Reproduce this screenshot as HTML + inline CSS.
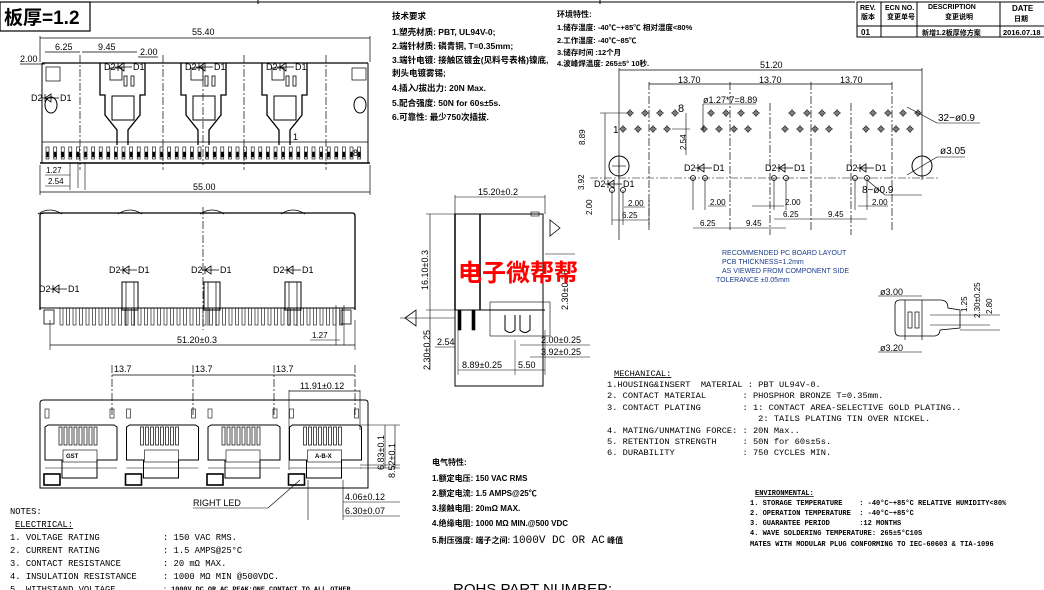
<!DOCTYPE html>
<html><head><meta charset="utf-8"><style>
html,body{margin:0;padding:0;background:#fff;}
svg{display:block;}
text{font-family:"Liberation Sans","Noto Sans CJK SC",sans-serif;fill:#000;}
.m text, text.m{font-family:"Liberation Mono","Noto Sans CJK SC",monospace;white-space:pre;}
.m tspan{font-family:"Liberation Mono",monospace;}
.c text{font-family:"Liberation Sans","Noto Sans CJK SC",sans-serif;font-weight:bold;}
</style></head><body>
<svg id="s" width="1044" height="590" viewBox="0 0 1044 590" xmlns="http://www.w3.org/2000/svg" fill="none" stroke="#000" stroke-width="1">
<line x1="0" y1="2" x2="855" y2="2"/>
<line x1="258" y1="0" x2="258" y2="4"/>
<line x1="600" y1="0" x2="600" y2="4"/>
<rect x="0" y="2" width="90" height="29" stroke-width="1.2"/>
<text x="4" y="24" font-size="19" font-weight="bold" stroke="none">板厚=1.2</text>
<g stroke-width="1">
<rect x="857" y="2" width="190" height="35"/>
<line x1="857" y1="26" x2="1044" y2="26"/>
<line x1="881" y1="2" x2="881" y2="37"/>
<line x1="917" y1="2" x2="917" y2="37"/>
<line x1="1000" y1="2" x2="1000" y2="37"/>
</g>
<g stroke="none" class="c" font-size="7">
<text x="860" y="10">REV.</text><text x="861" y="19">版本</text>
<text x="885" y="10">ECN NO.</text><text x="887" y="19">变更单号</text>
<text x="928" y="9">DESCRIPTION</text><text x="945" y="19">变更说明</text>
<text x="1012" y="11" font-size="8">DATE</text><text x="1014" y="21">日期</text>
<text x="861" y="35" font-weight="normal" font-size="8">01</text>
<text x="922" y="35">新增1.2板厚修方案</text>
<text x="1003" y="35" font-weight="normal" font-size="7.5">2016.07.18</text>
</g>

<g id="top"></g>
<g id="mid"></g>
<g id="front"></g>
<g id="side"></g>
<g id="pcb"></g>

<g stroke="none" class="c" font-size="8.5">
<text x="392" y="19">技术要求</text>
<text x="392" y="35">1.塑壳材质: PBT, UL94V-0;</text>
<text x="392" y="49">2.端针材质: 磷青铜, T=0.35mm;</text>
<text x="392" y="63">3.端针电镀: 接触区镀金(见料号表格)镍底,</text>
<text x="392" y="76">刺头电镀雾锡;</text>
<text x="392" y="91">4.插入/拔出力:  20N Max.</text>
<text x="392" y="106">5.配合强度: 50N for 60s±5s.</text>
<text x="392" y="120">6.可靠性: 最少750次插拔.</text>
<text x="557" y="17" font-size="8">环境特性:</text>
<text x="557" y="30" font-size="7.5">1.储存温度: -40℃~+85℃ 相对湿度&lt;80%</text>
<text x="557" y="43" font-size="7.5">2.工作温度: -40℃~85℃</text>
<text x="557" y="55" font-size="7.5">3.储存时间 :12个月</text>
<text x="557" y="66" font-size="7.5">4.波峰焊温度: 265±5° 10秒.</text>
</g>
<text x="458" y="281" font-size="24" font-weight="bold" stroke="none" style="fill:#f00">电子微帮帮</text>
<g stroke="none" font-size="7">
<text x="722" y="255" style="fill:#1a3c8c">RECOMMENDED PC BOARD LAYOUT</text>
<text x="722" y="264" style="fill:#1a3c8c">PCB THICKNESS=1.2mm</text>
<text x="722" y="273" style="fill:#1a3c8c">AS VIEWED FROM COMPONENT SIDE</text>
<text x="716" y="282" style="fill:#1a3c8c">TOLERANCE ±0.05mm</text>
</g>
<g stroke="none" class="m" font-size="8.7">
<text x="614" y="376" text-decoration="underline">MECHANICAL:</text>
<text x="607" y="387">1.HOUSING&amp;INSERT  MATERIAL : PBT UL94V-0.</text>
<text x="607" y="398">2. CONTACT MATERIAL       : PHOSPHOR BRONZE T=0.35mm.</text>
<text x="607" y="410">3. CONTACT PLATING        : 1: CONTACT AREA-SELECTIVE GOLD PLATING..</text>
<text x="607" y="421">                             2: TAILS PLATING TIN OVER NICKEL.</text>
<text x="607" y="433">4. MATING/UNMATING FORCE: : 20N Max..</text>
<text x="607" y="444">5. RETENTION STRENGTH     : 50N for 60s±5s.</text>
<text x="607" y="455">6. DURABILITY             : 750 CYCLES MIN.</text>
</g>
<g stroke="none" class="m" font-size="7" font-weight="bold">
<text x="755" y="495" text-decoration="underline">ENVIRONMENTAL:</text>
<text x="750" y="505">1. STORAGE TEMPERATURE    : -40°C~+85°C RELATIVE HUMIDITY&lt;80%</text>
<text x="750" y="515">2. OPERATION TEMPERATURE  : -40°C~+85°C</text>
<text x="750" y="525">3. GUARANTEE PERIOD       :12 MONTHS</text>
<text x="750" y="535">4. WAVE SOLDERING TEMPERATURE: 265±5°C10S</text>
<text x="750" y="546">MATES WITH MODULAR PLUG CONFORMING TO IEC-60603 &amp; TIA-1096</text>
</g>
<g stroke="none" class="m" font-size="8.8">
<text x="10" y="514">NOTES:</text>
<text x="15" y="527" text-decoration="underline">ELECTRICAL:</text>
<text x="10" y="540">1. VOLTAGE RATING</text><text x="163" y="540">: 150 VAC RMS.</text>
<text x="10" y="553">2. CURRENT RATING</text><text x="163" y="553">: 1.5 AMPS@25°C</text>
<text x="10" y="566">3. CONTACT RESISTANCE</text><text x="163" y="566">: 20 mΩ MAX.</text>
<text x="10" y="579">4. INSULATION RESISTANCE</text><text x="163" y="579">: 1000 MΩ MIN @500VDC.</text>
<text x="10" y="592">5. WITHSTAND VOLTAGE</text><text x="163" y="591" font-size="6.8" font-weight="bold">: 1000V DC OR AC PEAK:ONE CONTACT TO ALL OTHER</text>
</g>
<g stroke="none" class="c" font-size="8">
<text x="432" y="465">电气特性:</text>
<text x="432" y="481">1.额定电压: 150 VAC RMS</text>
<text x="432" y="496">2.额定电流: 1.5 AMPS@25℃</text>
<text x="432" y="511">3.接触电阻: 20mΩ MAX.</text>
<text x="432" y="526">4.绝缘电阻: 1000 MΩ MIN.@500 VDC</text>
<text x="432" y="543">5.耐压强度: 端子之间: <tspan style="font-family:'Liberation Mono',monospace;font-weight:normal" font-size="11">1000V DC OR AC</tspan> 峰值</text>
</g>
<text x="453" y="594" font-size="15" stroke="none">ROHS PART NUMBER:</text>
</svg>
<script>
var NS="http://www.w3.org/2000/svg";
function el(g,t,a,txt){var e=document.createElementNS(NS,t);for(var k in a)e.setAttribute(k,a[k]);if(txt!=null)e.textContent=txt;document.getElementById(g).appendChild(e);return e;}
function L(g,x1,y1,x2,y2,w,d){var a={x1:x1,y1:y1,x2:x2,y2:y2};if(w)a['stroke-width']=w;if(d)a['stroke-dasharray']=d;return el(g,'line',a);}
function R(g,x,y,w,h,sw,f){var a={x:x,y:y,width:w,height:h};if(sw)a['stroke-width']=sw;if(f)a.fill=f;return el(g,'rect',a);}
function T(g,x,y,s,fs,extra){var a={x:x,y:y,stroke:'none','font-size':fs||9};for(var k in extra)a[k]=extra[k];return el(g,'text',a,s);}
function diode(g,x,y){T(g,x-14,y+3,'D2',9);L(g,x-3,y,x+14,y,0.8);el(g,'path',{d:'M'+(x+6)+' '+(y-4)+' L'+(x)+' '+y+' L'+(x+6)+' '+(y+4)+' Z','stroke-width':0.8});L(g,x,y-4,x,y+4,0.8);T(g,x+15,y+3,'D1',9);}
var DD='8,2,2,2';
(function(){var g='top';
L(g,40,38,370,38,0.7);L(g,40,36,40,62,0.7);L(g,370,36,370,62,0.7);T(g,192,35,'55.40',9);
L(g,45,52,80,52,0.7);T(g,55,50,'6.25',9);L(g,82,52,137,52,0.7);T(g,98,50,'9.45',9);T(g,140,55,'2.00',9);L(g,138,57,158,57,0.7);
T(g,20,62,'2.00',9);L(g,20,64,45,64,0.7);
L(g,42,63,368,63,1.3);L(g,42,63,42,163);L(g,368,63,368,163);
L(g,40,163,370,163,1.6);
var px=[100,181,262];
for(var i=0;i<3;i++){var x=px[i];
el(g,'path',{d:'M'+x+' 63 L'+x+' 95 L'+(x+5)+' 95 L'+(x+5)+' 115 L'+(x+17)+' 130 L'+(x+17)+' 145 M'+(x+45)+' 63 L'+(x+45)+' 95 L'+(x+40)+' 95 L'+(x+40)+' 115 L'+(x+28)+' 130 L'+(x+28)+' 145','stroke-width':1.3});
R(g,x+10,68,12,12,0.8);R(g,x+12,96,22,24,1);
diode(g,x+18,67);R(g,x+24,76,3,10,0.8);R(g,x+31,76,3,10,0.8);
}
diode(g,45,98);R(g,46,67,14,14,0.7);
el(g,'ellipse',{cx:51,cy:105,rx:6,ry:8});el(g,'ellipse',{cx:360,cy:105,rx:6,ry:8});R(g,352,68,14,12,0.7);
[80,163,244,326].forEach(function(x){L(g,x,55,x,170,0.7,DD);});
L(g,203,65,203,165,0.7,DD);
for(var x=46;x<364;x+=7.6){R(g,x,147,3,12,0.6);R(g,x+0.5,152,2,5,0.5,'#000');}
L(g,42,142,368,142,0.8);
T(g,293,140,'1',9);T(g,353,156,'8',9);
L(g,40,192,370,192,0.7);L(g,40,165,40,195,0.7);L(g,370,165,370,195,0.7);T(g,193,190,'55.00',9);
T(g,46,173,'1.27',8);L(g,45,175,70,175,0.6);T(g,48,184,'2.54',8);L(g,45,186,70,186,0.6);L(g,70,163,70,190,0.6);L(g,78,163,78,188,0.6);L(g,85,163,85,190,0.6);
})();
(function(){var g='mid';
el(g,'path',{d:'M40 310 L40 215 Q40 213 45 213 L352 213 Q355 213 355 216 L355 310','stroke-width':1.3});
[50,130,212,293].forEach(function(x){el(g,'path',{d:'M'+(x-12)+' 214 Q'+x+' 206 '+(x+12)+' 214','stroke-width':0.8});});
L(g,203,207,203,330,0.7,DD);
diode(g,53,289);diode(g,123,270);diode(g,205,270);diode(g,287,270);
[122,204,285].forEach(function(x){R(g,x,282,16,28,1);L(g,x+4,282,x+4,326,0.7);L(g,x+12,282,x+12,326,0.7);});
for(var x=60;x<345;x+=6.5){R(g,x,308,3,17,0.6);}
L(g,40,308,355,308,1);
R(g,44,310,10,14,0.8);R(g,341,310,10,14,0.8);
L(g,50,345,355,345,0.7);L(g,50,320,50,350,0.6);L(g,355,320,355,350,0.6);T(g,177,343,'51.20±0.3',9);
T(g,312,338,'1.27',8);L(g,310,340,340,340,0.6);L(g,336,305,336,345,0.6);L(g,344,305,344,345,0.6);
})();
(function(){var g='front';
el(g,'path',{d:'M44 400 L365 400 Q368 400 368 403 L368 488 L40 488 L40 403 Q40 400 44 400 Z','stroke-width':1});
[112,193,274,355].forEach(function(x){L(g,x,365,x,415,0.7,DD);});
L(g,112,375,355,375,0.7);T(g,114,372,'13.7',9);T(g,195,372,'13.7',9);T(g,276,372,'13.7',9);
T(g,300,389,'11.91±0.12',9);L(g,289,391,360,391,0.7);L(g,289,390,289,470,0.6);L(g,360,390,360,430,0.6);
for(var i=0;i<4;i++){var x=42+i*81.5;
el(g,'path',{d:'M'+(x+3)+' 427 L'+(x+6)+' 425 L'+(x+72)+' 425 L'+(x+75)+' 427 L'+(x+75)+' 460 L'+(x+55)+' 460 L'+(x+55)+' 478 L'+(x+20)+' 478 L'+(x+20)+' 460 L'+(x+3)+' 460 Z','stroke-width':1});
L(g,x+3,468,x+75,468,0.6);R(g,x+21,450,34,12,0.6);
R(g,x+3,409,4,9,0.6);R(g,x+68,409,4,9,0.6);
for(var k=0;k<8;k++)R(g,x+17+k*5,427,3,18,0.7);
R(g,x+2,474,16,11,1.6);
}
T(g,66,458,'GST',6,{'font-weight':'bold'});T(g,315,458,'A-B-X',6,{'font-weight':'bold'});
T(g,193,506,'RIGHT LED',9);L(g,193,508,268,508,0.6);L(g,268,508,300,480,0.6);
T(g,345,500,'4.06±0.12',9);L(g,343,502,400,502,0.6);T(g,345,514,'6.30±0.07',9);L(g,343,516,400,516,0.6);
L(g,308,480,308,520,0.6);L(g,343,480,343,520,0.6);
L(g,360,425,400,425,0.6);L(g,360,465,400,465,0.6);L(g,360,468,400,468,0.6);
L(g,385,425,385,468,0.6);L(g,395,425,395,468,0.6);
T(g,0,0,'6.83±0.1',9,{transform:'translate(384,470) rotate(-90)'});T(g,0,0,'8.52±0.1',9,{transform:'translate(395,478) rotate(-90)'});
})();
(function(){var g='side';
R(g,455,214,88,172,1);L(g,480,214,480,310,1.5);L(g,455,214,455,310,1.5);
R(g,531,212,8,4,0.6);L(g,455,310,545,310,1);
L(g,455,197,545,197,0.6);L(g,455,195,455,214,0.6);L(g,545,195,545,214,0.6);T(g,478,195,'15.20±0.2',9);
L(g,426,214,455,214,0.6);L(g,426,310,455,310,0.6);L(g,430,214,430,370,0.6);
T(g,0,0,'16.10±0.3',9,{transform:'translate(428,290) rotate(-90)'});
T(g,0,0,'2.30±0.25',9,{transform:'translate(430,370) rotate(-90)'});
T(g,0,0,'2.30±0.25',9,{transform:'translate(568,310) rotate(-90)'});
el(g,'path',{d:'M405 318 L416 310 L416 326 Z','stroke-width':0.8});el(g,'path',{d:'M560 228 L550 220 L550 236 Z','stroke-width':0.8});
L(g,400,318,455,318,0.6);L(g,545,254,575,254,0.6);
R(g,490,302,60,34,0.6);
[458,472].forEach(function(x){R(g,x,310,3,20,0.6,'#000');});
el(g,'path',{d:'M505 315 L505 330 Q510 335 515 330 L515 315 M520 315 L520 330 Q525 335 530 330 L530 315','stroke-width':1});
L(g,435,347,455,347,0.6);T(g,437,345,'2.54',9);
L(g,458,370,515,370,0.6);T(g,462,368,'8.89±0.25',9);L(g,515,370,545,370,0.6);T(g,518,368,'5.50',9);
T(g,541,343,'2.00±0.25',9);L(g,520,345,590,345,0.6);T(g,541,355,'3.92±0.25',9);L(g,530,357,590,357,0.6);
L(g,458,330,458,375,0.5);L(g,515,340,515,375,0.5);L(g,545,330,545,375,0.5);
})();
(function(){var g='pcb';
L(g,619,70,922,70,0.7);L(g,619,68,619,240,0.7);L(g,922,68,922,180,0.7);T(g,760,68,'51.20',9);
L(g,649,84,892,84,0.7);T(g,678,83,'13.70',9);T(g,759,83,'13.70',9);T(g,840,83,'13.70',9);
[649,730,811,892].forEach(function(x){L(g,x,82,x,230,0.7,DD);});
[770,851].forEach(function(x){L(g,x,103,x,235,0.7,DD);});
T(g,703,103,'ø1.27*7=8.89',9);L(g,703,104,756,104,0.6);L(g,703,104,703,130,0.6);
for(var p=0;p<4;p++){var o=p*81;
[630,645,660,675].forEach(function(x){el(g,'circle',{cx:x+o,cy:113,r:2.2,'stroke-width':0.8});L(g,x+o-4,113,x+o+4,113,0.6);L(g,x+o,109,x+o,117,0.6);});
[623,638,653,667].forEach(function(x){el(g,'circle',{cx:x+o,cy:129,r:2.2,'stroke-width':0.8});L(g,x+o-4,129,x+o+4,129,0.6);L(g,x+o,125,x+o,133,0.6);});
}
T(g,678,112,'8',11);T(g,613,133,'1',10);L(g,600,113,630,113,0.6);L(g,605,113,605,180,0.6);
L(g,672,129,690,129,0.6);L(g,686,113,686,155,0.6);T(g,0,0,'2.54',8,{transform:'translate(686,150) rotate(-90)'});
T(g,0,0,'8.89',8,{transform:'translate(585,145) rotate(-90)'});T(g,0,0,'3.92',8,{transform:'translate(584,190) rotate(-90)'});
T(g,0,0,'2.00',8,{transform:'translate(592,215) rotate(-90)'});
T(g,938,121,'32−ø0.9',10);L(g,907,107,937,123,0.6);L(g,937,123,980,123,0.6);
el(g,'circle',{cx:619,cy:166,r:10});L(g,612,166,626,166,0.6);L(g,619,159,619,173,0.6);
el(g,'circle',{cx:922,cy:166,r:10});L(g,907,175,937,157,0.6);T(g,940,154,'ø3.05',10);L(g,937,157,965,157,0.6);
L(g,590,178,940,178,0.6,DD);
[[693,705],[774,786],[855,867]].forEach(function(a){
a.forEach(function(x){el(g,'circle',{cx:x,cy:178,r:2.5,'stroke-width':0.8});L(g,x,178,x,210,0.6);});
diode(g,a[0]+5,168);
});
[[612,623]].forEach(function(a){a.forEach(function(x){el(g,'circle',{cx:x,cy:190,r:2.5,'stroke-width':0.8});L(g,x,190,x,225,0.6);});});
diode(g,608,184);
T(g,862,193,'8−ø0.9',10);L(g,867,180,885,195,0.6);L(g,885,195,922,195,0.6);
T(g,710,205,'2.00',8);L(g,708,206,726,206,0.6);T(g,785,205,'2.00',8);L(g,752,206,784,206,0.6);T(g,872,205,'2.00',8);L(g,858,206,888,206,0.6);
T(g,628,206,'2.00',8);L(g,624,207,645,207,0.6);
T(g,622,218,'6.25',8);L(g,612,220,649,220,0.6);L(g,649,200,649,225,0.6);
L(g,693,228,730,228,0.6);T(g,700,226,'6.25',8);L(g,730,228,786,228,0.6);T(g,746,226,'9.45',8);
L(g,774,219,811,219,0.6);T(g,783,217,'6.25',8);L(g,811,219,867,219,0.6);T(g,828,217,'9.45',8);
})();
(function(){var g='pcb';
el(g,'path',{d:'M895 305 Q895 300 900 300 L940 300 Q948 300 948 308 L960 310 L960 328 L940 330 Q940 335 935 336 L900 336 Q895 336 895 330 Z','stroke-width':0.8});
L(g,905,300,905,340,0.7);L(g,922,300,922,340,0.7);R(g,908,312,4,16,0.7);R(g,915,312,4,16,0.7);
T(g,880,295,'ø3.00',9);L(g,878,296,922,296,0.6);T(g,880,351,'ø3.20',9);L(g,878,352,922,352,0.6);
L(g,930,315,1000,315,0.6);L(g,930,325,990,325,0.6);L(g,960,330,1000,330,0.6);
T(g,0,0,'1.25',8,{transform:'translate(967,312) rotate(-90)'});T(g,0,0,'2.30±0.25',8,{transform:'translate(980,318) rotate(-90)'});T(g,0,0,'2.80',8,{transform:'translate(992,314) rotate(-90)'});
})();
</script>
</body></html>
